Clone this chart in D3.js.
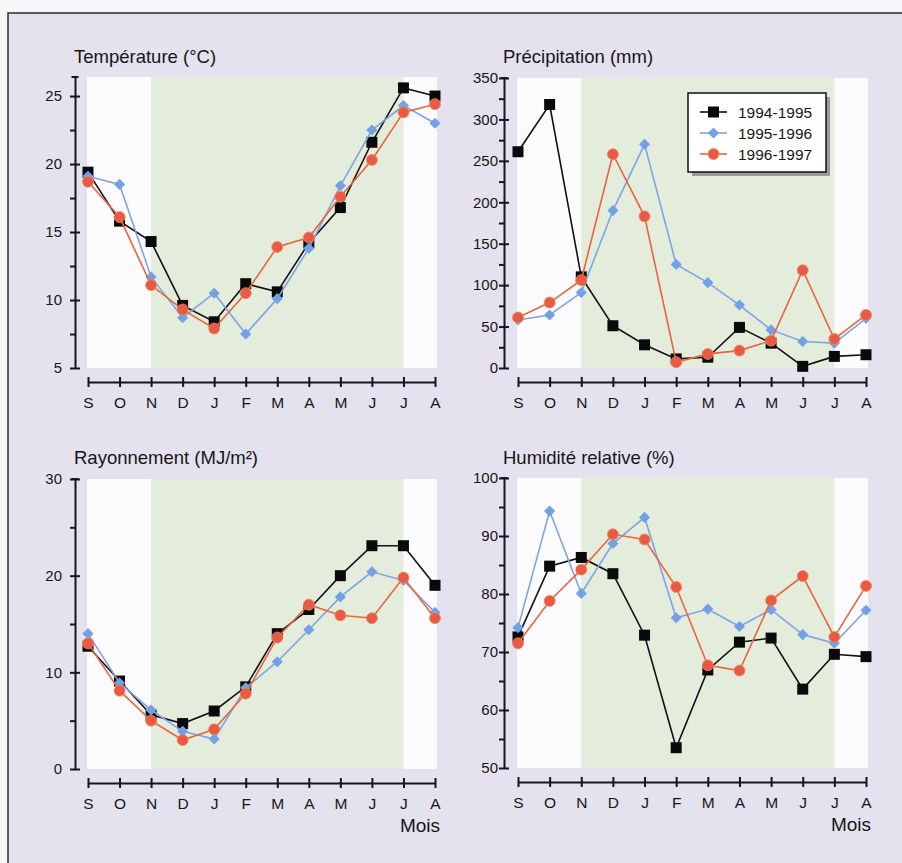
<!DOCTYPE html>
<html>
<head>
<meta charset="utf-8">
<script src="https://cdn.jsdelivr.net/npm/d3@7"></script>
<style>
  body{margin:0;background:#f6f5f8;}
  svg{display:block;font-family:"Liberation Sans",Arial,Helvetica,sans-serif;}
</style>
</head>
<body>
<div class="canvas"></div>
<script>
// months, Sept -> Aug
const months=['S','O','N','D','J','F','M','A','M','J','J','A'];
const seasons=['1994-1995','1995-1996','1996-1997'];

// temperature (°C)
const temp9495=[19.4,15.8,14.3,9.6,8.4,11.2,10.6,14.2,16.8,21.6,25.6,25.0];
const temp9596=[19.1,18.5,11.7,8.7,10.5,7.5,10.1,13.8,18.4,22.5,24.3,23.0];
const temp9697=[18.7,16.1,11.1,9.3,7.9,10.5,13.9,14.6,17.6,20.3,23.8,24.4];
const tempTicks=[5,10,15,20,25];
const tempMinor=[7.5,12.5,17.5,22.5];

// precipitation (mm)
const prec9495=[261,318,110,51,28,11,13,49,30,2,14,16];
const prec9596=[58,64,91,190,270,125,103,76,46,32,30,60];
const prec9697=[61,79,106,258,183,7,17,21,33,118,35,64];
const precTicks=[0,50,100,150,200,250,300,350];
const precMinor=[25,75,125,175,225,275,325];

// rayonnement (MJ/m2)
const rad9495=[12.7,9.1,5.6,4.7,6.0,8.5,14.0,16.5,20.0,23.1,23.1,19.0];
const rad9596=[14.0,8.9,6.1,3.9,3.1,8.4,11.1,14.4,17.8,20.4,19.5,16.2];
const rad9697=[13.0,8.1,5.0,3.0,4.1,7.8,13.6,17.0,15.9,15.6,19.8,15.6];
const radTicks=[0,10,20,30];
const radMinor=[5,15,25];

// humidite relative (%)
const hum9495=[72.6,84.8,86.3,83.5,72.9,53.5,66.9,71.7,72.4,63.6,69.6,69.2];
const hum9596=[74.2,94.3,80.1,88.7,93.2,75.9,77.4,74.4,77.3,73.0,71.5,77.2];
const hum9697=[71.5,78.8,84.2,90.3,89.4,81.2,67.7,66.8,78.9,83.1,72.6,81.4];
const humTicks=[50,60,70,80,90,100];
const humMinor=[55,65,75,85,95];

const colors=['#111111','#7ea4e6','#e8653e'];
const fills=['#0a0a0a','#74a0e8','#e85a45'];
const ink='#161616';

const svg=d3.select('.canvas').append('svg')
    .attr('width',902).attr('height',863);

svg.append('rect').attr('width',902).attr('height',863).attr('fill','#f6f5f8');
// outer frame
svg.append('rect')
    .attr('x',8).attr('y',13).attr('width',1000).attr('height',1000)
    .attr('fill','#e4e2ee').attr('stroke','#2a2a2a').attr('stroke-width',1.5);

const panels=[
  {title:'Température (°C)',series:[temp9495,temp9596,temp9697],ticks:tempTicks,minor:tempMinor,
   domain:[5,26.4],ax:75,x0:88,x1:435,top:77,bottom:368,ty:63,lab:-13},
  {title:'Précipitation (mm)',series:[prec9495,prec9596,prec9697],ticks:precTicks,minor:precMinor,
   domain:[0,350],ax:504,x0:518,x1:866,top:78,bottom:368,ty:63,lab:-6,legend:true},
  {title:'Rayonnement (MJ/m²)',series:[rad9495,rad9596,rad9697],ticks:radTicks,minor:radMinor,
   domain:[0,30],ax:75,x0:88,x1:435,top:479,bottom:769,ty:464,lab:-13,mois:true},
  {title:'Humidité relative (%)',series:[hum9495,hum9596,hum9697],ticks:humTicks,minor:humMinor,
   domain:[50,100],ax:504,x0:518,x1:866,top:478,bottom:768,ty:464,lab:-6,mois:true}
];

function marker(g,k,x,y){
  if(k===0){
    g.append('path').attr('d',d3.symbol(d3.symbolSquare,121)())
      .attr('transform',`translate(${x},${y})`).attr('fill',fills[0]);
  }else if(k===1){
    g.append('path').attr('d',d3.symbol(d3.symbolSquare,62)())
      .attr('transform',`translate(${x},${y}) rotate(45)`).attr('fill',fills[1]);
  }else{
    g.append('circle').attr('cx',x).attr('cy',y).attr('r',5.5)
      .attr('fill',fills[2]).attr('stroke','#ef8a5a').attr('stroke-width',0.8);
  }
}

panels.forEach(p=>{
  const g=svg.append('g');
  const x=d3.scalePoint().domain(d3.range(months.length)).range([p.x0,p.x1]);
  const y=d3.scaleLinear().domain(p.domain).range([p.bottom,p.top]);

  // plot background: white, green band N -> Jul
  g.append('rect').attr('x',p.x0-1).attr('y',p.top).attr('width',p.x1-p.x0+3)
    .attr('height',p.bottom-p.top).attr('fill','#fbfbfd');
  g.append('rect').attr('x',x(2)).attr('y',p.top).attr('width',x(10)-x(2))
    .attr('height',p.bottom-p.top).attr('fill','#e4ecdc');

  g.append('text').attr('x',p.ax-1).attr('y',p.ty).text(p.title)
    .attr('font-size',18.5).attr('fill',ink);

  // y axis: labelled ticks crossing the line, minor ticks to the left
  const yg=g.append('g').attr('transform',`translate(${p.ax},0)`);
  yg.call(d3.axisLeft(y).tickValues(p.ticks).tickSizeInner(5).tickSizeOuter(0).tickPadding(0));
  yg.selectAll('.tick line').attr('x1',5);
  yg.selectAll('.tick text').attr('x',p.lab).attr('font-size',15)
    .attr('font-family','"Liberation Sans",Arial,sans-serif').attr('fill',ink);
  const ym=g.append('g').attr('transform',`translate(${p.ax},0)`);
  ym.call(d3.axisLeft(y).tickValues(p.minor).tickSize(5).tickFormat(''));
  ym.select('.domain').remove();
  g.append('line').attr('class','cap').attr('x1',p.ax-3.5).attr('x2',p.ax+3.5)
    .attr('y1',p.top).attr('y2',p.top);
  g.selectAll('.domain,.tick line,.cap').attr('stroke',ink).attr('stroke-width',2);

  // x axis (months)
  const xg=g.append('g').attr('transform',`translate(0,${p.bottom+14})`);
  xg.call(d3.axisBottom(x).tickFormat(i=>months[i]).tickSize(5).tickSizeOuter(0).tickPadding(10));
  xg.selectAll('.tick line').attr('y1',-5).attr('stroke',ink).attr('stroke-width',2);
  xg.select('.domain').attr('stroke',ink).attr('stroke-width',2);
  xg.selectAll('.tick text').attr('font-size',15.5)
    .attr('font-family','"Liberation Sans",Arial,sans-serif').attr('fill',ink);

  if(p.mois){
    g.append('text').attr('x',p.x1+5).attr('y',p.bottom+63).attr('text-anchor','end')
      .attr('font-size',19).attr('fill',ink).text('Mois');
  }

  // series
  const line=d3.line().x((d,i)=>x(i)).y(d=>y(d));
  p.series.forEach((s,k)=>{
    const sg=g.append('g');
    sg.append('path').attr('d',line(s)).attr('fill','none')
      .attr('stroke',colors[k]).attr('stroke-width',1.6);
    s.forEach((v,i)=>marker(sg,k,x(i),y(v)));
  });

  if(p.legend){
    const lx=688,ly=93,lw=138,lh=79;
    const lg=g.append('g');
    lg.append('rect').attr('x',lx+4).attr('y',ly+4).attr('width',lw).attr('height',lh).attr('fill','#9a9a9e');
    lg.append('rect').attr('x',lx).attr('y',ly).attr('width',lw).attr('height',lh)
      .attr('fill','#ffffff').attr('stroke','#111').attr('stroke-width',1.5);
    seasons.forEach((name,k)=>{
      const yy=ly+19+k*21;
      lg.append('line').attr('x1',lx+12).attr('x2',lx+39).attr('y1',yy).attr('y2',yy)
        .attr('stroke',colors[k]).attr('stroke-width',1.6);
      marker(lg,k,lx+25.5,yy);
      lg.append('text').attr('x',lx+50).attr('y',yy+5.5).attr('font-size',15.5)
        .attr('fill',ink).text(name);
    });
  }
});
</script>
</body>
</html>
